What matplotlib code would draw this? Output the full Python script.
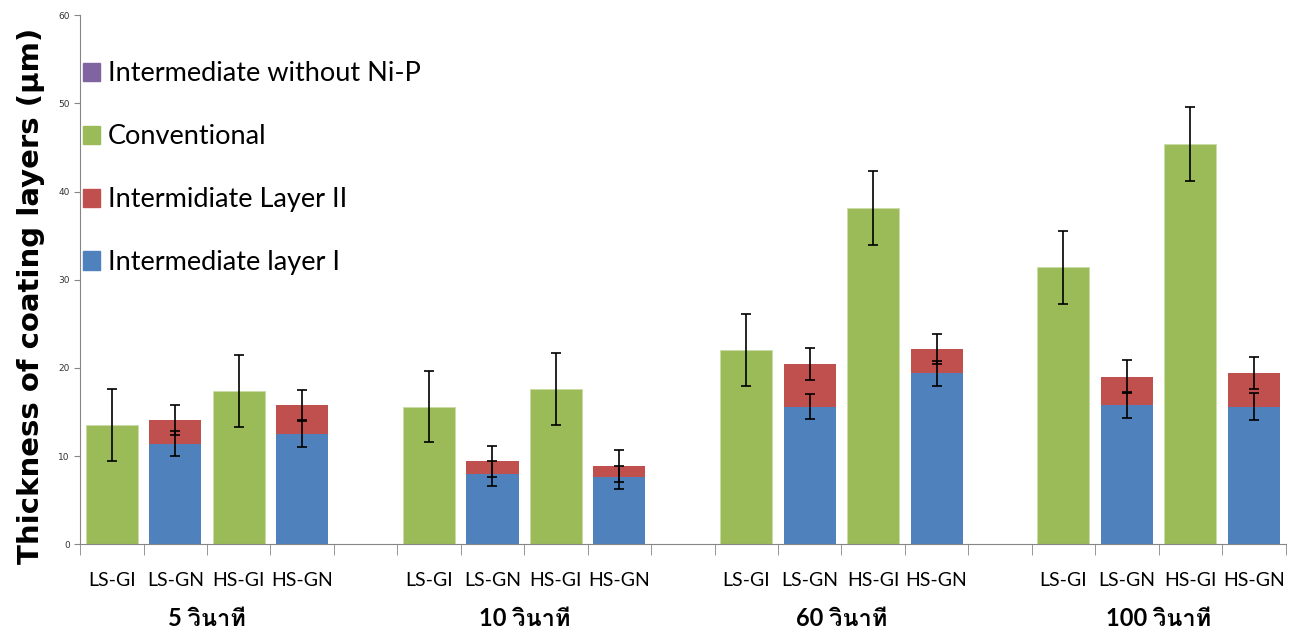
import numpy as np
import matplotlib
matplotlib.use('Agg')
import matplotlib.pyplot as plt
from matplotlib import font_manager
from matplotlib.ft2font import FT2Font
from matplotlib.patches import Patch

# data
times = ['5 วินาที', '10 วินาที', '60 วินาที', '100 วินาที']
samples = ['LS-GI', 'LS-GN', 'HS-GI', 'HS-GN']

# conventional coating: LS-GI, HS-GI for each time
conventional = [13.5, 17.4, 15.6, 17.6, 22.0, 38.1, 31.4, 45.4]
conventional_err = [4.05, 4.1, 4.05, 4.1, 4.1, 4.2, 4.1, 4.2]
# intermediate layers: LS-GN, HS-GN for each time
layer1 = [11.4, 12.5, 8.0, 7.6, 15.6, 19.4, 15.8, 15.6]
layer1_err = [1.4, 1.5, 1.4, 1.3, 1.45, 1.4, 1.5, 1.55]
layer2 = [2.7, 3.3, 1.4, 1.3, 4.8, 2.7, 3.2, 3.8]
layer2_err = [1.7, 1.7, 1.75, 1.8, 1.8, 1.7, 1.9, 1.8]
without_nip = [0, 0, 0, 0, 0, 0, 0, 0]

c_purple = '#8064A2'
c_green = '#9BBB59'
c_red = '#C0504D'
c_blue = '#4F81BD'


def thai_font():
    # look for any installed font that has Thai glyphs
    for f in font_manager.fontManager.ttflist:
        try:
            if 0x0E27 in FT2Font(f.fname).get_charmap():
                return f.name
        except Exception:
            pass
    return 'DejaVu Sans'


thai = thai_font()
latin = 'Lato'

fig = plt.figure(figsize=(12.92, 6.35), dpi=100)
ax = fig.add_axes([0.062, 0.143, 0.933, 0.833])

gi_x = [5 * g + s for g in range(4) for s in (0, 2)]
gn_x = [5 * g + s for g in range(4) for s in (1, 3)]
w = 0.82
ek = dict(ecolor='black', elinewidth=1.2, capsize=3.5, capthick=1.2)

ax.bar(gn_x, without_nip, w, color=c_purple)
ax.bar(gi_x, conventional, w, color=c_green, edgecolor='#c9dba6', linewidth=0.6,
       yerr=conventional_err, error_kw=ek)
ax.bar(gn_x, layer1, w, color=c_blue, yerr=layer1_err, error_kw=ek)
ax.bar(gn_x, layer2, w, bottom=layer1, color=c_red, yerr=layer2_err, error_kw=ek)

ax.set_xlim(-0.5, 18.5)
ax.set_ylim(0, 60)
ax.set_yticks(range(0, 61, 10))
ax.tick_params(axis='y', labelsize=6.5, length=4, color='#868686', labelcolor='#333333')

pos = [5 * g + s for g in range(4) for s in range(4)]
ax.set_xticks(pos)
ax.set_xticklabels(samples * 4, fontsize=14, family=latin)
ax.set_xticks(np.arange(-0.5, 18.6, 1), minor=True)
ax.tick_params(axis='x', which='major', length=0, pad=20)
ax.tick_params(axis='x', which='minor', length=8, color='#868686')

for s in ['top', 'right']:
    ax.spines[s].set_visible(False)
for s in ['left', 'bottom']:
    ax.spines[s].set_color('#868686')

for g, t in enumerate(times):
    ax.text(5 * g + 1.5, -8.4, t, ha='center', va='center', fontsize=17,
            fontweight='bold', family=[latin, thai])

ax.set_ylabel('Thickness of coating layers (μm)', fontsize=21, fontweight='bold',
              family='DejaVu Sans')
ax.yaxis.set_label_coords(-0.029, 0.47)

handles = [Patch(color=c_purple), Patch(color=c_green), Patch(color=c_red), Patch(color=c_blue)]
names = ['Intermediate without Ni-P', 'Conventional', 'Intermidiate Layer II', 'Intermediate layer I']
ax.legend(handles, names, loc='upper left', bbox_to_anchor=(0.002, 0.913), frameon=False,
          prop={'family': latin, 'size': 19.5}, handlelength=0.65, handleheight=0.65,
          handletextpad=0.3, labelspacing=1.4, borderpad=0, borderaxespad=0)

fig.savefig('out.png', dpi=100)
